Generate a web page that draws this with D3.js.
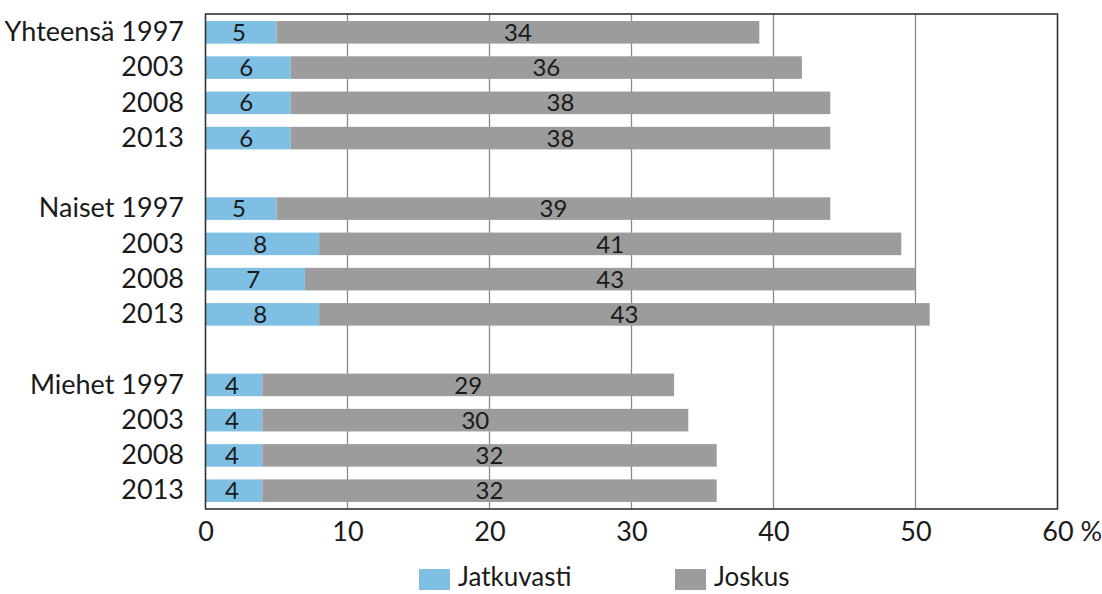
<!DOCTYPE html>
<html><head><meta charset="utf-8">
<script src="https://cdn.jsdelivr.net/npm/d3@7"></script>
<style>
body{margin:0;background:#fff;}
text{font-family:"Lato","DejaVu Sans Condensed",sans-serif;fill:#1a1a1a;}
</style></head>
<body><svg id="c" width="1102" height="594"></svg>
<script>
const rowLabels = ["Yhteensä 1997","2003","2008","2013","","Naiset 1997","2003","2008","2013","","Miehet 1997","2003","2008","2013"];
const jatkuvasti = [5,6,6,6,null,5,8,7,8,null,4,4,4,4];
const joskus = [34,36,38,38,null,39,41,43,43,null,29,30,32,32];
const xTicks = [0,10,20,30,40,50,60];
const seriesNames = ["Jatkuvasti","Joskus"];
const colors = ["#7fbfe3","#9c9c9c"];

const svg = d3.select("#c");
const L=205.5, R=1057.5, T=14, B=509;
const x = d3.scaleLinear().domain([0,60]).range([L,R]);
const y = d3.scaleBand().domain(d3.range(rowLabels.length)).range([T,B]).paddingInner(0.36).paddingOuter(0.2);

// gridlines
svg.append("g").selectAll("line").data(xTicks.filter(d=>d>0&&d<60)).join("line")
  .attr("x1",d=>x(d)).attr("x2",d=>x(d)).attr("y1",T).attr("y2",B)
  .attr("stroke","#8a8a8a").attr("stroke-width",1.3);

const rows = rowLabels.map((l,i)=>({i,l,a:jatkuvasti[i],b:joskus[i]})).filter(d=>d.a!=null);

// bars
svg.append("g").selectAll("rect").data(rows).join("rect")
  .attr("x",x(0)).attr("y",d=>y(d.i)).attr("width",d=>x(d.a)-x(0)).attr("height",y.bandwidth())
  .attr("fill",colors[0]);
svg.append("g").selectAll("rect").data(rows).join("rect")
  .attr("x",d=>x(d.a)).attr("y",d=>y(d.i)).attr("width",d=>x(d.a+d.b)-x(d.a)).attr("height",y.bandwidth())
  .attr("fill",colors[1]);

// value labels
const fs=24;
svg.append("g").selectAll("text").data(rows).join("text")
  .attr("x",d=>(x(0)+x(d.a))/2 - 2).attr("y",d=>y(d.i)+y.bandwidth()/2).attr("dy","0.36em")
  .attr("text-anchor","middle").attr("font-size",fs).text(d=>d.a);
svg.append("g").selectAll("text").data(rows).join("text")
  .attr("x",d=>(x(d.a)+x(d.a+d.b))/2).attr("y",d=>y(d.i)+y.bandwidth()/2).attr("dy","0.36em")
  .attr("text-anchor","middle").attr("font-size",fs).text(d=>d.b);

// row labels
svg.append("g").selectAll("text").data(rows).join("text")
  .attr("x",184).attr("y",d=>y(d.i)+y.bandwidth()/2 - 1).attr("dy","0.36em")
  .attr("text-anchor","end").attr("font-size",27).text(d=>d.l);

// frame
svg.append("rect").attr("x",L).attr("y",T).attr("width",R-L).attr("height",B-T)
  .attr("fill","none").attr("stroke","#333").attr("stroke-width",1.6);

// x axis
const xAxis = d3.axisBottom(x).tickValues(xTicks).tickSize(0).tickPadding(13).tickFormat(d=>d);
const gx = svg.append("g").attr("transform",`translate(0,${B})`).call(xAxis);
gx.select(".domain").remove();
gx.selectAll("text").attr("font-size",27).style("font-family",null).attr("fill","#1a1a1a");
gx.selectAll(".tick").filter(d=>d===60).select("text").each(function(){
  const t=d3.select(this); const w=this.getComputedTextLength();
  t.attr("text-anchor","start").attr("x",-w/2).text("60 %");
});

// legend
const lg = svg.append("g");
const legendX=[419,675];
seriesNames.forEach((n,k)=>{
  lg.append("rect").attr("x",legendX[k]).attr("y",569).attr("width",31).attr("height",21).attr("fill",colors[k]);
  lg.append("text").attr("x",legendX[k]+39).attr("y",577).attr("dy","0.36em").attr("font-size",26).text(n);
});
</script></body></html>
